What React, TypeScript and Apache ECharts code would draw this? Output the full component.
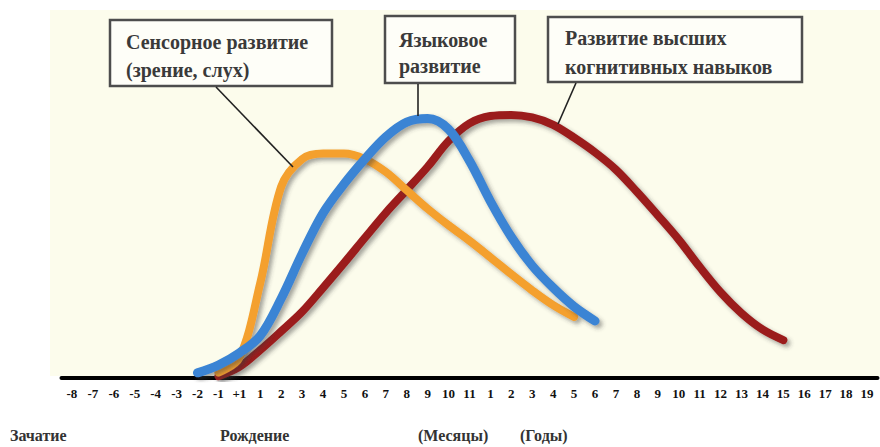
import React, { useEffect, useRef } from "react";
import * as echarts from "echarts";

// Tick labels: prenatal months, months after birth, years
const prenatalTicks = ["-8", "-7", "-6", "-5", "-4", "-3", "-2", "-1", "+1"];
const monthTicks = ["1", "2", "3", "4", "5", "6", "7", "8", "9", "10", "11"];
const yearTicks = [
  "1", "2", "3", "4", "5", "6", "7", "8", "9", "10",
  "11", "12", "13", "14", "15", "16", "17", "18", "19",
];
const categories = [...prenatalTicks, ...monthTicks, ...yearTicks];

// Series values (relative intensity, 0..100), one per category, null = no line
const sensory = [
  null, null, null, null, null, null, null, 1.5, 5.5,
  25.8, 52, 59.5, 61, 61, 59.5, 56, 51, 46, 41.5, 37.3,
  32.8, 28.2, 23.8, 19.8, 16.6, null, null, null, null, null,
  null, null, null, null, null, null, null, null, null,
];
const language = [
  null, null, null, null, null, null, 1.4, 3.5, 6.8,
  11.5, 21.6, 33.8, 44.8, 52.7, 59.5, 65.5, 69.5, 70.5, 67.6, 59,
  48, 38.3, 30.5, 24.5, 19.4, 15.5, null, null, null, null,
  null, null, null, null, null, null, null, null, null,
];
const cognitive = [
  null, null, null, null, null, null, null, 0.5, 3,
  7.6, 12.7, 18, 24.5, 31.2, 38.1, 44.9, 51.1, 57.4, 64.4, 69.2,
  71.2, 71.5, 70.8, 68.8, 65.3, 61.3, 56.6, 50.6, 44.2, 37.6,
  30.2, 23.3, 17.6, 13.2, 10.3, null, null, null, null,
];

const boxTexts = {
  sensory: ["Сенсорное развитие", "(зрение, слух)"],
  language: ["Языковое", "развитие"],
  cognitive: ["Развитие высших", "когнитивных навыков"],
};
const periodLabels = ["Зачатие", "Рождение", "(Месяцы)", "(Годы)"];

const SERIF = "'Liberation Serif', 'DejaVu Serif', serif";

export default function App() {
  const ref = useRef<HTMLDivElement>(null);

  useEffect(() => {
    if (!ref.current) return;
    const chart = echarts.init(ref.current, null, { renderer: "svg" });

    const shadow = {
      shadowColor: "rgba(60,60,60,0.45)",
      shadowBlur: 4,
      shadowOffsetX: 3,
      shadowOffsetY: 3,
    };

    const boxFill = "#3a3a3a";
    const mkBox = (x: number, y: number, w: number, h: number) => ({
      type: "rect",
      z: 50,
      shape: { x, y, width: w, height: h },
      style: { fill: "#fefef8", stroke: "#4d4d4d", lineWidth: 2.5 },
    });
    const mkText = (
      x: number,
      y: number,
      text: string,
      size: number,
      fill: string
    ) => ({
      type: "text",
      z: 51,
      x,
      y,
      style: {
        text,
        fontSize: size,
        fontWeight: "bold",
        fontFamily: SERIF,
        fill,
        textAlign: "left",
        textVerticalAlign: "middle",
        align: "left",
        verticalAlign: "middle",
      },
    });
    const mkLine = (x1: number, y1: number, x2: number, y2: number) => ({
      type: "line",
      z: 52,
      shape: { x1, y1, x2, y2 },
      style: { stroke: "#222", lineWidth: 1.6 },
    });

    const option = {
      animation: false,
      backgroundColor: "#ffffff",
      grid: { left: 61.5, right: 2.5, top: 10, bottom: 69, containLabel: false },
      xAxis: {
        type: "category",
        data: categories,
        boundaryGap: true,
        axisLine: { show: true, lineStyle: { color: "#000", width: 4 } },
        axisTick: { show: false },
        splitLine: { show: false },
        axisLabel: {
          interval: 0,
          color: "#111",
          fontSize: 13,
          fontWeight: "bold",
          fontFamily: SERIF,
          margin: 9,
        },
      },
      yAxis: { type: "value", min: 0, max: 100, show: false },
      series: [
        {
          name: "Развитие высших когнитивных навыков",
          type: "line",
          data: cognitive,
          smooth: 0.35,
          showSymbol: false,
          connectNulls: false,
          z: 2,
          lineStyle: { color: "#9b1c1c", width: 8, cap: "round", ...shadow },
        },
        {
          name: "Сенсорное развитие",
          type: "line",
          data: sensory,
          smooth: 0.35,
          showSymbol: false,
          connectNulls: false,
          z: 3,
          lineStyle: { color: "#f4a02d", width: 8, cap: "round", ...shadow },
        },
        {
          name: "Языковое развитие",
          type: "line",
          data: language,
          smooth: 0.35,
          showSymbol: false,
          connectNulls: false,
          z: 4,
          lineStyle: { color: "#3a84d4", width: 9, cap: "round", ...shadow },
        },
      ],
      graphic: [
        {
          type: "rect",
          z: -10,
          silent: true,
          shape: { x: 50, y: 10, width: 830, height: 366 },
          style: { fill: "#fcfcec" },
        },
        mkBox(110, 20, 222, 66),
        mkText(126, 42, boxTexts.sensory[0], 20, boxFill),
        mkText(126, 70, boxTexts.sensory[1], 20, boxFill),
        mkLine(216, 87, 293, 167),

        mkBox(385, 16, 130, 67),
        mkText(399, 40, boxTexts.language[0], 20, boxFill),
        mkText(399, 66, boxTexts.language[1], 20, boxFill),
        mkLine(418, 84, 418, 116),

        mkBox(548, 17, 254, 65),
        mkText(565, 38, boxTexts.cognitive[0], 20, boxFill),
        mkText(565, 67, boxTexts.cognitive[1], 20, boxFill),
        mkLine(576, 83, 558, 124),

        mkText(10, 435, periodLabels[0], 16, "#333"),
        mkText(220, 435, periodLabels[1], 16, "#333"),
        mkText(418, 435, periodLabels[2], 16, "#333"),
        mkText(520, 435, periodLabels[3], 16, "#333"),
      ],
    };

    chart.setOption(option as any);
    return () => chart.dispose();
  }, []);

  return (
    <div
      ref={ref}
      style={{ position: "fixed", left: 0, top: 0, width: 880, height: 447 }}
    />
  );
}
